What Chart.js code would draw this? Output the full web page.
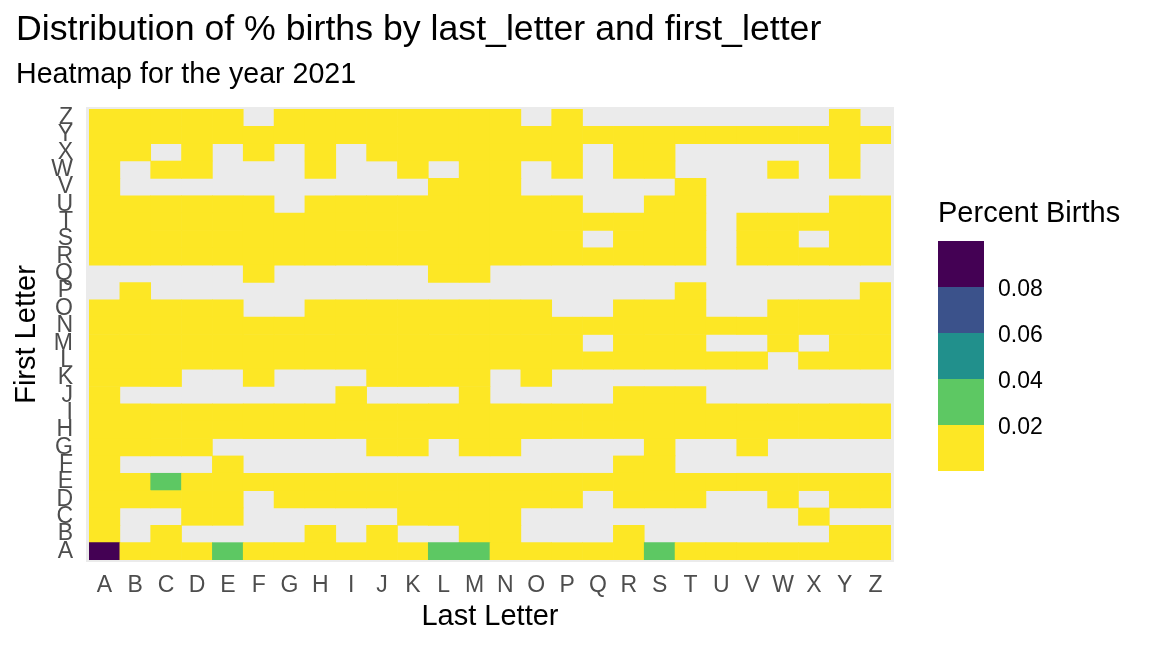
<!DOCTYPE html>
<html>
<head>
<meta charset="utf-8">
<script src="https://cdn.jsdelivr.net/npm/chart.js@4.4.1/dist/chart.umd.min.js"></script>
<style>
  html, body { margin: 0; padding: 0; background: #ffffff; }
  canvas { display: block; }
</style>
</head>
<body>
<canvas id="chart" width="1152" height="648"></canvas>
<script>
// ---------- data ----------
const lastLetters  = ['A','B','C','D','E','F','G','H','I','J','K','L','M','N','O','P','Q','R','S','T','U','V','W','X','Y','Z'];
const firstLetters = ['A','B','C','D','E','F','G','H','I','J','K','L','M','N','O','P','Q','R','S','T','U','V','W','X','Y','Z'];
const _ = null; // no births recorded for this combination

// percent births per first letter (row), columns = last letter A..Z
const rowA = [0.092,0.005,0.005,0.005,0.025,0.005,0.005,0.005,0.005,0.005,0.005,0.028,0.027,0.005,0.005,0.005,0.005,0.005,0.024,0.005,0.005,0.005,0.005,0.005,0.005,0.005];
const rowB = [0.005,_,0.005,_,_,_,_,0.005,_,0.005,_,_,0.005,0.005,_,_,_,0.005,_,_,_,_,_,_,0.005,0.005];
const rowC = [0.005,_,_,0.005,0.005,_,_,_,_,_,0.005,0.005,0.005,0.005,_,_,_,_,_,_,_,_,_,0.005,_,_];
const rowD = [0.005,0.005,0.005,0.005,0.005,_,0.005,0.005,0.005,0.005,0.005,0.005,0.005,0.005,0.005,0.005,_,0.005,0.005,0.005,_,_,0.005,_,0.005,0.005];
const rowE = [0.005,0.005,0.025,0.005,0.005,0.005,0.005,0.005,0.005,0.005,0.005,0.005,0.005,0.005,0.005,0.005,0.005,0.005,0.005,0.005,0.005,0.005,0.005,0.005,0.005,0.005];
const rowF = [0.005,_,_,_,0.005,_,_,_,_,_,_,_,_,_,_,_,_,0.005,0.005,_,_,_,_,_,_,_];
const rowG = [0.005,0.005,0.005,0.005,_,_,_,_,_,0.005,0.005,_,0.005,0.005,_,_,_,_,0.005,_,_,0.005,_,_,_,_];
const rowH = [0.005,0.005,0.005,0.005,0.005,0.005,0.005,0.005,0.005,0.005,0.005,0.005,0.005,0.005,0.005,0.005,0.005,0.005,0.005,0.005,0.005,0.005,0.005,0.005,0.005,0.005];
const rowI = [0.005,0.005,0.005,0.005,0.005,0.005,0.005,0.005,0.005,0.005,0.005,0.005,0.005,0.005,0.005,0.005,0.005,0.005,0.005,0.005,0.005,0.005,0.005,0.005,0.005,0.005];
const rowJ = [0.005,_,_,_,_,_,_,_,0.005,_,_,_,0.005,_,_,_,_,0.005,0.005,0.005,_,_,_,_,_,_];
const rowK = [0.005,0.005,0.005,_,_,0.005,_,_,_,0.005,0.005,0.005,0.005,_,0.005,_,_,_,_,_,_,_,_,_,_,_];
const rowL = [0.005,0.005,0.005,0.005,0.005,0.005,0.005,0.005,0.005,0.005,0.005,0.005,0.005,0.005,0.005,0.005,0.005,0.005,0.005,0.005,0.005,0.005,_,0.005,0.005,0.005];
const rowM = [0.005,0.005,0.005,0.005,0.005,0.005,0.005,0.005,0.005,0.005,0.005,0.005,0.005,0.005,0.005,0.005,_,0.005,0.005,0.005,_,_,0.005,_,0.005,0.005];
const rowN = [0.005,0.005,0.005,0.005,0.005,0.005,0.005,0.005,0.005,0.005,0.005,0.005,0.005,0.005,0.005,0.005,0.005,0.005,0.005,0.005,0.005,0.005,0.005,0.005,0.005,0.005];
const rowO = [0.005,0.005,0.005,0.005,0.005,_,_,0.005,0.005,0.005,0.005,0.005,0.005,0.005,0.005,_,_,0.005,0.005,0.005,_,_,0.005,0.005,0.005,0.005];
const rowP = [_,0.005,_,_,_,_,_,_,_,_,_,_,_,_,_,_,_,_,_,0.005,_,_,_,_,_,0.005];
const rowQ = [_,_,_,_,_,0.005,_,_,_,_,_,0.005,0.005,_,_,_,_,_,_,_,_,_,_,_,_,_];
const rowR = [0.005,0.005,0.005,0.005,0.005,0.005,0.005,0.005,0.005,0.005,0.005,0.005,0.005,0.005,0.005,0.005,0.005,0.005,0.005,0.005,_,0.005,0.005,0.005,0.005,0.005];
const rowS = [0.005,0.005,0.005,0.005,0.005,0.005,0.005,0.005,0.005,0.005,0.005,0.005,0.005,0.005,0.005,0.005,_,0.005,0.005,0.005,_,0.005,0.005,_,0.005,0.005];
const rowT = [0.005,0.005,0.005,0.005,0.005,0.005,0.005,0.005,0.005,0.005,0.005,0.005,0.005,0.005,0.005,0.005,0.005,0.005,0.005,0.005,_,0.005,0.005,0.005,0.005,0.005];
const rowU = [0.005,0.005,0.005,0.005,0.005,0.005,_,0.005,0.005,0.005,0.005,0.005,0.005,0.005,0.005,0.005,_,_,0.005,0.005,_,_,_,_,0.005,0.005];
const rowV = [0.005,_,_,_,_,_,_,_,_,_,_,0.005,0.005,0.005,_,_,_,_,_,0.005,_,_,_,_,_,_];
const rowW = [0.005,_,0.005,0.005,_,_,_,0.005,_,_,0.005,_,0.005,0.005,_,0.005,_,0.005,0.005,_,_,_,0.005,_,0.005,_];
const rowX = [0.005,0.005,_,0.005,_,0.005,_,0.005,_,0.005,0.005,0.005,0.005,0.005,0.005,0.005,_,0.005,0.005,_,_,_,_,_,0.005,_];
const rowY = [0.005,0.005,0.005,0.005,0.005,0.005,0.005,0.005,0.005,0.005,0.005,0.005,0.005,0.005,0.005,0.005,0.005,0.005,0.005,0.005,0.005,0.005,0.005,0.005,0.005,0.005];
const rowZ = [0.005,0.005,0.005,0.005,0.005,_,0.005,0.005,0.005,0.005,0.005,0.005,0.005,0.005,_,0.005,_,_,_,_,_,_,_,_,0.005,_];

const percentBirths = [rowA,rowB,rowC,rowD,rowE,rowF,rowG,rowH,rowI,rowJ,rowK,rowL,rowM,rowN,rowO,rowP,rowQ,rowR,rowS,rowT,rowU,rowV,rowW,rowX,rowY,rowZ];

// binned colour scale (viridis, reversed)
const legendBreaks = [0.02, 0.04, 0.06, 0.08];
const legendLabels = ['0.02', '0.04', '0.06', '0.08'];
const binColors    = ['#FDE725', '#5DC863', '#21908C', '#3B528B', '#440154'];

// texts
const titleText    = 'Distribution of % births by last_letter and first_letter';
const subtitleText = 'Heatmap for the year 2021';
const xTitleText   = 'Last Letter';
const yTitleText   = 'First Letter';
const legendTitle  = 'Percent Births';

// ---------- helpers ----------
const FONT = "'Liberation Sans', Arial, Helvetica, sans-serif";
function binColor(v) {
  let i = 0;
  while (i < legendBreaks.length && v >= legendBreaks[i]) i++;
  return binColors[i];
}

const datasets = firstLetters.map((fl, r) => ({
  label: fl,
  data: percentBirths[r].map(v => (v === null ? null : [r, r + 1])),
  backgroundColor: percentBirths[r].map(v => (v === null ? 'rgba(0,0,0,0)' : binColor(v))),
  borderWidth: 0,
  grouped: false,
  barPercentage: 1,
  categoryPercentage: 1
}));

// panel background + titles + binned legend
const decorPlugin = {
  id: 'decor',
  beforeDraw(chart) {
    const {ctx, chartArea: a} = chart;
    ctx.save();
    ctx.fillStyle = '#EBEBEB';
    ctx.fillRect(a.left - 3, a.top - 2, (a.right - a.left) + 6, (a.bottom - a.top) + 4);
    ctx.restore();
  },
  afterDraw(chart) {
    const ctx = chart.ctx;
    ctx.save();
    ctx.fillStyle = '#000000';
    ctx.textAlign = 'left';
    ctx.textBaseline = 'alphabetic';
    ctx.font = `35.7px ${FONT}`;
    ctx.fillText(titleText, 16, 39.5);
    ctx.font = `28.6px ${FONT}`;
    ctx.fillText(subtitleText, 16, 83);

    // legend
    const lx = 938, ly = 241, bw = 46, bh = 46;
    ctx.font = `29px ${FONT}`;
    ctx.fillText(legendTitle, lx, 222);
    const n = binColors.length;
    for (let i = 0; i < n; i++) {
      ctx.fillStyle = binColors[n - 1 - i];
      ctx.fillRect(lx, ly + i * bh, bw, bh);
    }
    ctx.fillStyle = '#000000';
    ctx.font = `23px ${FONT}`;
    ctx.textBaseline = 'middle';
    for (let k = 0; k < legendLabels.length; k++) {
      const y = ly + (n - 1 - k) * bh;
      ctx.fillText(legendLabels[k], lx + 60, y + 3);
    }
    ctx.restore();
  }
};

new Chart(document.getElementById('chart'), {
  type: 'bar',
  data: { labels: lastLetters, datasets },
  options: {
    responsive: false,
    animation: false,
    devicePixelRatio: 1,
    layout: { padding: { top: 109, right: 261, bottom: 0, left: 0 } },
    plugins: {
      legend: { display: false },
      tooltip: { enabled: false },
      title: { display: false }
    },
    scales: {
      x: {
        type: 'category',
        offset: true,
        grid: { display: false, drawTicks: false },
        border: { display: false },
        ticks: { color: '#4D4D4D', font: { family: FONT, size: 23 }, padding: 12, maxRotation: 0, autoSkip: false },
        title: { display: true, text: xTitleText, color: '#000000', font: { family: FONT, size: 29 }, padding: 14 },
        afterFit(s) { s.height = 88; s.paddingLeft = 0; s.paddingRight = 0; }
      },
      y: {
        type: 'linear',
        min: 0,
        max: 26,
        grid: { display: false, drawTicks: false },
        border: { display: false },
        afterBuildTicks(s) { s.ticks = firstLetters.map((l, i) => ({ value: i + 0.5 })); },
        ticks: {
          autoSkip: false,
          color: '#4D4D4D',
          font: { family: FONT, size: 23 },
          padding: 16,
          callback: (v) => firstLetters[Math.floor(v)]
        },
        title: { display: true, text: yTitleText, color: '#000000', font: { family: FONT, size: 29 }, padding: 10 },
        afterFit(s) { s.width = 89; s.paddingTop = 0; s.paddingBottom = 0; }
      }
    }
  },
  plugins: [decorPlugin]
});
</script>
</body>
</html>
